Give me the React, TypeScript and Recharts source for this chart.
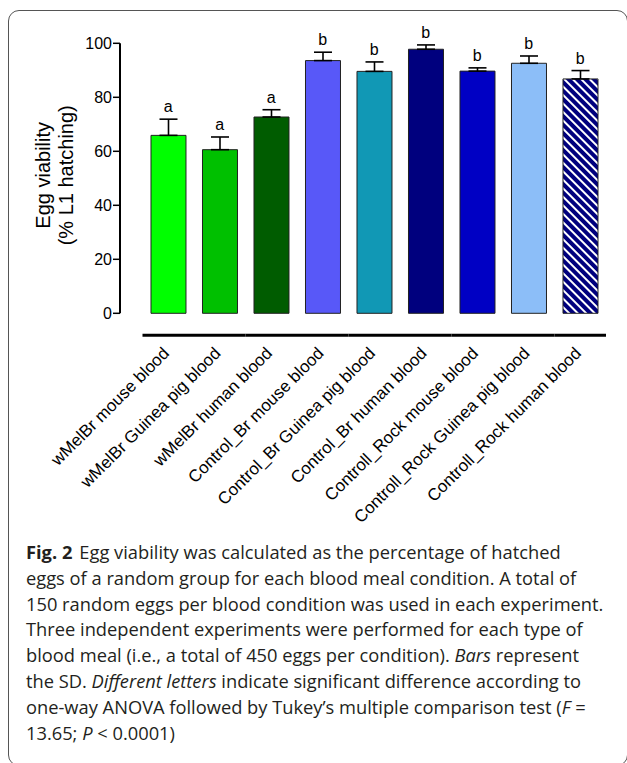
import React from 'react';
import { ComposedChart, Bar, Line, XAxis, YAxis, ErrorBar, Cell, LabelList } from 'recharts';

const categories = [
  'wMelBr mouse blood',
  'wMelBr Guinea pig blood',
  'wMelBr human blood',
  'Control_Br mouse blood',
  'Control_Br Guinea pig blood',
  'Control_Br human blood',
  'Controll_Rock mouse blood',
  'Controll_Rock Guinea pig blood',
  'Controll_Rock human blood',
];
const viability = [65.9, 60.6, 72.7, 93.6, 89.6, 97.8, 89.7, 92.6, 86.8];
const sd = [6.0, 4.7, 2.7, 3.1, 3.5, 1.6, 1.2, 2.7, 3.1];
const letters = ['a', 'a', 'a', 'b', 'b', 'b', 'b', 'b', 'b'];
const barColors = [
  '#00ff00',
  '#00c000',
  '#005c00',
  '#5858f8',
  '#1198b5',
  '#00007e',
  '#0000c4',
  '#8cbef8',
  'url(#navyStripes)',
];
const yTicks = [0, 20, 40, 60, 80, 100];

const data = categories.map((name, i) => ({
  name,
  value: viability[i],
  err: [0, sd[i]],
  top: viability[i] + sd[i],
  letter: letters[i],
}));

const FONT = '"Liberation Sans", Arial, Helvetica, sans-serif';
const PAD_L = 22.5;

// rotated category label plus its piece of the thick line under the plot
const XTick = (props: any) => {
  const { x, y, payload, width, visibleTicksCount } = props;
  const half = width && visibleTicksCount ? (width - PAD_L) / visibleTicksCount / 2 : 25.75;
  return (
    <g>
      <line x1={x - half} x2={x + half} y1={y + 22} y2={y + 22} stroke="#000" strokeWidth={3} />
      <text
        transform={`translate(${x + 2},${y + 41}) rotate(-45)`}
        textAnchor="end"
        fontSize={17}
        fontFamily={FONT}
        fill="#000"
      >
        {payload.value}
      </text>
    </g>
  );
};

const YLabel = (props: any) => {
  const vb = props.viewBox || {};
  const cy = vb.height ? vb.y + vb.height / 2 - 3 : 175;
  return (
    <g fontFamily={FONT} fontSize={20} fill="#000">
      <text transform={`translate(50,${cy}) rotate(-90)`} textAnchor="middle">
        Egg viability
      </text>
      <text transform={`translate(73,${cy}) rotate(-90)`} textAnchor="middle">
        (% L1 hatching)
      </text>
    </g>
  );
};

const capFont = '"Open Sans", "Noto Sans", sans-serif';

const Caption = () => {
  const b0 = 559;
  const lh = 25.8;
  const common = { x: 26, fontFamily: capFont, fontSize: 18.3, fill: '#231f20' };
  return (
    <svg width={627} height={763} style={{ position: 'absolute', left: 0, top: 0, pointerEvents: 'none' }}>
      <text {...common} y={b0}>
        <tspan fontWeight="bold">Fig. 2</tspan>
        <tspan dx={7}>Egg viability was calculated as the percentage of hatched</tspan>
      </text>
      <text {...common} y={b0 + lh}>
        eggs of a random group for each blood meal condition. A total of
      </text>
      <text {...common} y={b0 + lh * 2}>
        150 random eggs per blood condition was used in each experiment.
      </text>
      <text {...common} y={b0 + lh * 3}>
        Three independent experiments were performed for each type of
      </text>
      <text {...common} y={b0 + lh * 4}>
        blood meal (i.e., a total of 450 eggs per condition). <tspan fontStyle="italic">Bars</tspan> represent
      </text>
      <text {...common} y={b0 + lh * 5}>
        the SD. <tspan fontStyle="italic">Different letters</tspan> indicate significant difference according to
      </text>
      <text {...common} y={b0 + lh * 6}>
        one-way ANOVA followed by Tukey’s multiple comparison test (<tspan fontStyle="italic">F</tspan> =
      </text>
      <text {...common} y={b0 + lh * 7}>
        13.65; <tspan fontStyle="italic">P</tspan> {'<'} 0.0001)
      </text>
    </svg>
  );
};

export default function App() {
  return (
    <div style={{ position: 'relative', width: 627, height: 763, overflow: 'hidden', background: '#fff' }}>
      <style>{'body{margin:0;overflow:hidden}'}</style>
      <div
        style={{
          position: 'absolute',
          left: 8,
          top: 10,
          width: 620,
          height: 756,
          border: '1px solid #555',
          borderRadius: 11,
          boxSizing: 'border-box',
        }}
      />
      <div style={{ position: 'absolute', left: 0, top: 0 }}>
        <ComposedChart
          width={627}
          height={540}
          data={data}
          margin={{ top: 43.3, right: 21, bottom: 0, left: 0 }}
          barCategoryGap="16.5%"
        >
          <defs>
            <pattern
              id="navyStripes"
              patternUnits="userSpaceOnUse"
              width={6}
              height={6}
              patternTransform="rotate(-45)"
            >
              <rect x={0} y={0} width={6} height={6} fill="#00007e" />
              <rect x={0} y={0} width={2} height={6} fill="#ffffff" />
            </pattern>
          </defs>
          <XAxis
            dataKey="name"
            type="category"
            interval={0}
            axisLine={false}
            tickLine={false}
            tickSize={0}
            tickMargin={0}
            height={226.7}
            padding={{ left: PAD_L, right: 0 }}
            tick={<XTick />}
          />
          <YAxis
            type="number"
            domain={[0, 100]}
            ticks={yTicks}
            width={120}
            tickSize={7}
            tickMargin={1}
            axisLine={{ stroke: '#000', strokeWidth: 2 }}
            tickLine={{ stroke: '#000', strokeWidth: 1.5 }}
            tick={{ fontSize: 16, fill: '#000', fontFamily: FONT }}
            label={{ content: <YLabel /> }}
          />
          <Bar dataKey="value" stroke="#222" strokeWidth={1} isAnimationActive={false}>
            {data.map((d, i) => (
              <Cell key={d.name} fill={barColors[i]} />
            ))}
            <ErrorBar dataKey="err" direction="y" width={9} stroke="#000" strokeWidth={1.6} />
          </Bar>
          <Line
            dataKey="top"
            stroke="none"
            dot={false}
            activeDot={false}
            legendType="none"
            isAnimationActive={false}
          >
            <LabelList dataKey="letter" position="top" offset={7} fontSize={16} fill="#000" fontFamily={FONT} />
          </Line>
        </ComposedChart>
      </div>
      <Caption />
    </div>
  );
}
